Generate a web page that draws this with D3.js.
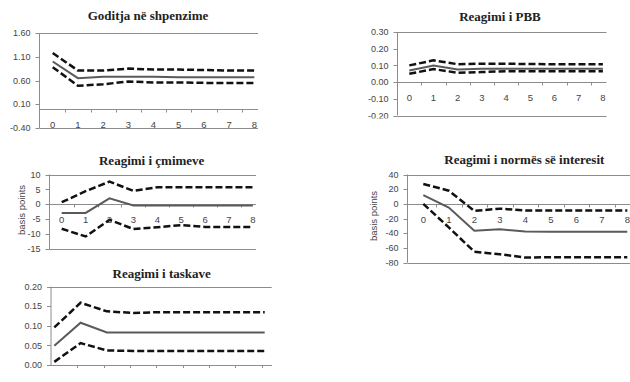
<!DOCTYPE html>
<html>
<head>
<meta charset="utf-8">
<script src="https://cdn.jsdelivr.net/npm/d3@7"></script>
<style>
body{margin:0;background:#fff}
</style>
</head>
<body>
<svg id="chart" width="630" height="382"></svg>
<script>
// periods after shock
var periods = [0,1,2,3,4,5,6,7,8]

// Goditja ne shpenzime
var spendMid = [1.00,0.65,0.68,0.68,0.68,0.67,0.67,0.67,0.67]
var spendUp  = [1.18,0.81,0.81,0.85,0.83,0.83,0.82,0.81,0.81]
var spendLo  = [0.88,0.49,0.52,0.58,0.56,0.56,0.55,0.55,0.55]
var spendTicks = [-0.40,0.10,0.60,1.10,1.60]

// Reagimi i PBB
var gdpMid = [0.070,0.100,0.075,0.080,0.080,0.080,0.080,0.080,0.080]
var gdpUp  = [0.100,0.130,0.107,0.110,0.110,0.108,0.107,0.107,0.107]
var gdpLo  = [0.050,0.078,0.056,0.060,0.065,0.065,0.065,0.065,0.065]
var gdpTicks = [-0.20,-0.10,0.00,0.10,0.20,0.30]

// Reagimi i cmimeve
var priceMid = [-2.9,-2.9,2.0,-0.4,-0.4,-0.4,-0.4,-0.4,-0.4]
var priceUp  = [0.7,4.4,7.6,4.5,5.7,5.7,5.7,5.7,5.7]
var priceLo  = [-8.2,-10.8,-5.2,-8.3,-7.7,-7.0,-7.6,-7.6,-7.6]
var priceTicks = [-15,-10,-5,0,5,10]

// Reagimi i normes se interesit
var rateMid = [12,-5,-36.5,-34.5,-37.5,-38,-38,-38,-38]
var rateUp  = [27,18,-9.5,-6.5,-9,-9,-9,-9,-9]
var rateLo  = [0,-32,-65,-68.5,-73,-72.5,-72.5,-72.5,-72.5]
var rateTicks = [-80,-60,-40,-20,0,20,40]

// Reagimi i taskave
var taxMid = [0.049,0.108,0.083,0.083,0.083,0.083,0.083,0.083,0.083]
var taxUp  = [0.096,0.159,0.137,0.133,0.135,0.135,0.135,0.135,0.135]
var taxLo  = [0.008,0.056,0.037,0.036,0.036,0.036,0.036,0.036,0.036]
var taxTicks = [0.00,0.05,0.10,0.15,0.20]

var fmt2 = function(v){ return d3.format(".2f")(v).replace("\u2212","-") }
var fmt0 = function(v){ return d3.format("d")(v).replace("\u2212","-") }

var panels = [
  {title:"Goditja në shpenzime", tx:148, ty:20, left:39.5, right:258, top:33, bottom:128,
   x0:52.7, step:25.2, ticks:spendTicks, fmt:fmt2, tickShift:0.5, xlabOff:15,
   mid:spendMid, up:spendUp, lo:spendLo},
  {title:"Reagimi i PBB", tx:500, ty:21, left:397.5, right:606.5, top:32, bottom:115.5,
   x0:409.3, step:24.2, ticks:gdpTicks, fmt:fmt2, tickShift:0.5, xlabOff:15,
   mid:gdpMid, up:gdpUp, lo:gdpLo},
  {title:"Reagimi i çmimeve", tx:151.7, ty:164.5, left:49.5, right:256, top:174.5, bottom:249,
   x0:61.7, step:23.9, ticks:priceTicks, fmt:fmt0, tickShift:0.5, xlabOff:15, yTitle:"basis points", ytx:22, yty:210,
   mid:priceMid, up:priceUp, lo:priceLo},
  {title:"Reagimi i normës së interesit", tx:524.3, ty:164, left:407.5, right:630, top:174.5, bottom:262.7,
   x0:423.3, step:25.5, ticks:rateTicks, fmt:fmt0, tickShift:0.5, xlabOff:15, yTitle:"basis points", ytx:373.3, yty:216,
   mid:rateMid, up:rateUp, lo:rateLo},
  {title:"Reagimi i taskave", tx:161.7, ty:278, left:51, right:271.7, top:286.7, bottom:365,
   x0:54.3, step:26.3, ticks:taxTicks, fmt:fmt2, tickShift:-0.12, xlabOff:11.5,
   mid:taxMid, up:taxUp, lo:taxLo}
]

var svg = d3.select("#chart")
var axisColor = "#8c8c8c"
var sans = "Liberation Sans, Arial, sans-serif"
var serif = "Liberation Serif, Times New Roman, serif"

panels.forEach(function(p, pi){
  var x = d3.scaleLinear().domain([0,8]).range([p.x0, p.x0 + 8*p.step])
  var y = d3.scaleLinear().domain(d3.extent(p.ticks)).range([p.bottom, p.top])

  svg.append("text")
    .attr("x", p.tx).attr("y", p.ty)
    .attr("text-anchor","middle")
    .attr("font-family", serif)
    .attr("font-weight","bold")
    .attr("font-size", 13)
    .attr("fill","#222")
    .text(p.title)

  svg.append("clipPath").attr("id","clip"+pi)
    .append("rect").attr("x",0).attr("y",p.top-20).attr("width",630).attr("height",p.bottom-p.top+23)

  var g = svg.append("g").attr("clip-path","url(#clip"+pi+")")

  // frame lines top and bottom
  g.selectAll(".frame").data([y.domain()[1], y.domain()[0]]).enter().append("line")
    .attr("x1",p.left).attr("x2",p.right)
    .attr("y1",function(d){return Math.round(y(d))+0.5}).attr("y2",function(d){return Math.round(y(d))+0.5})
    .attr("stroke",axisColor).attr("stroke-width",1)

  // y axis
  g.append("line").attr("x1",p.left).attr("x2",p.left).attr("y1",p.top).attr("y2",p.bottom)
    .attr("stroke",axisColor)
  g.selectAll(".ytick").data(p.ticks).enter().append("line")
    .attr("x1",p.left-4).attr("x2",p.left)
    .attr("y1",function(d){return Math.round(y(d))+0.5}).attr("y2",function(d){return Math.round(y(d))+0.5})
    .attr("stroke",axisColor)
  g.selectAll(".ylab").data(p.ticks).enter().append("text")
    .attr("x",p.left-9).attr("y",function(d){return y(d)}).attr("dy","0.35em")
    .attr("text-anchor","end").attr("font-family",sans).attr("font-size",9).attr("fill","#444")
    .text(p.fmt)

  // x axis at zero
  var y0 = Math.round(y(0))+0.5
  g.append("line").attr("x1",p.left).attr("x2",p.right).attr("y1",y0).attr("y2",y0)
    .attr("stroke",axisColor)
  var tickPos = periods.map(function(d){return d + p.tickShift}).filter(function(d){return x(d) > p.left+2 && x(d) < p.right})
  g.selectAll(".xtick").data(tickPos).enter().append("line")
    .attr("x1",function(d){return Math.round(x(d))+0.5}).attr("x2",function(d){return Math.round(x(d))+0.5})
    .attr("y1",y0).attr("y2",y0+3)
    .attr("stroke",axisColor)
  g.selectAll(".xlab").data(periods).enter().append("text")
    .attr("x",function(d){return x(d)}).attr("y",y0+p.xlabOff).attr("dy","0.35em")
    .attr("text-anchor","middle").attr("font-family",sans).attr("font-size",9.5).attr("fill","#444")
    .text(function(d){return d})

  var line = d3.line().x(function(d,i){return x(periods[i])}).y(function(d){return y(d)})

  g.append("path").datum(p.mid).attr("d",line)
    .attr("fill","none").attr("stroke","#5a5a5a").attr("stroke-width",2)
  ;[p.up, p.lo].forEach(function(s){
    g.append("path").datum(s).attr("d",line)
      .attr("fill","none").attr("stroke","#111").attr("stroke-width",2.5)
      .attr("stroke-dasharray","7,3")
  })

  if (p.yTitle){
    svg.append("text")
      .attr("transform","translate("+p.ytx+","+p.yty+") rotate(-90)")
      .attr("dy","0.35em").attr("text-anchor","middle")
      .attr("font-family",sans).attr("font-size",9.5).attr("fill","#444")
      .text(p.yTitle)
  }
})
</script>
</body>
</html>
